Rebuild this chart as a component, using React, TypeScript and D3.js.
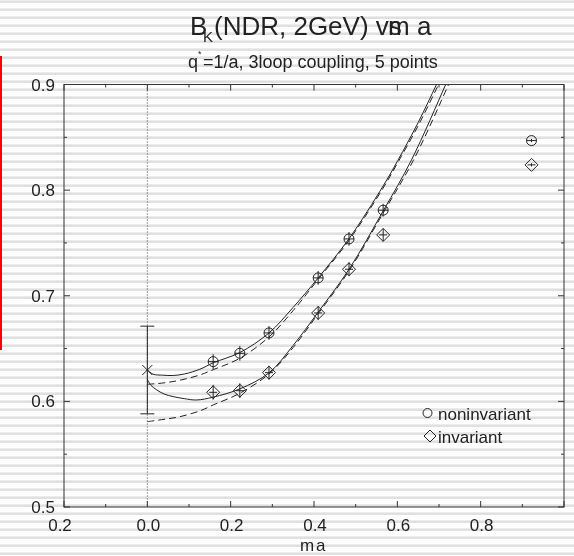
import React from "react";
import * as d3 from "d3";

const W = 574;
const H = 556;

// axis ticks
const xMajorTicks = [-0.2, 0, 0.2, 0.4, 0.6, 0.8, 1.0];
const xMinorTicks = [-0.1, 0.1, 0.3, 0.5, 0.7, 0.9];
const xTickLabels = ["0.2", "0.0", "0.2", "0.4", "0.6", "0.8"];
const yMajorTicks = [0.5, 0.6, 0.7, 0.8, 0.9];
const yMinorTicks = [0.55, 0.65, 0.75, 0.85];
const yTickLabels = ["0.5", "0.6", "0.7", "0.8", "0.9"];

// data points
const massValues = [0.158, 0.222, 0.292, 0.41, 0.484, 0.566, 0.922];
const noninvariantValues = [0.6376, 0.6455, 0.6648, 0.7169, 0.7538, 0.781, 0.8469];
const noninvariantErrors = [0.007, 0.007, 0.0065, 0.0065, 0.0065, 0.006, 0.0015];
const invariantValues = [0.6086, 0.6101, 0.6272, 0.6837, 0.7251, 0.7576, 0.8239];
const invariantErrors = [0.007, 0.007, 0.0065, 0.0065, 0.0065, 0.006, 0.0015];

// chiral-limit extrapolation
const chiralMass = [0];
const chiralValue = [0.6297];
const chiralError = [0.0415];

// fit curves
const upperSolidX = [0, 0.014, 0.037, 0.062, 0.09, 0.126, 0.158, 0.222, 0.292, 0.35, 0.41, 0.484, 0.566, 0.601, 0.65, 0.694, 0.72];
const upperSolidY = [0.6297, 0.6257, 0.6248, 0.6245, 0.626, 0.6304, 0.6365, 0.6462, 0.6648, 0.689, 0.7169, 0.754, 0.804, 0.828, 0.864, 0.9, 0.922];
const upperDashedX = [0, 0.04, 0.078, 0.126, 0.158, 0.222, 0.292, 0.35, 0.41, 0.484, 0.566, 0.601, 0.65, 0.699, 0.72];
const upperDashedY = [0.6162, 0.6175, 0.62, 0.625, 0.63, 0.6408, 0.661, 0.686, 0.7155, 0.7525, 0.802, 0.826, 0.861, 0.9, 0.917];
const lowerSolidX = [0, 0.008, 0.022, 0.04, 0.062, 0.09, 0.118, 0.158, 0.222, 0.292, 0.35, 0.409, 0.484, 0.567, 0.634, 0.716, 0.74];
const lowerSolidY = [0.621, 0.6155, 0.611, 0.607, 0.6045, 0.6025, 0.6013, 0.604, 0.6118, 0.627, 0.653, 0.684, 0.725, 0.781, 0.8286, 0.9, 0.922];
const lowerDashedX = [0, 0.04, 0.078, 0.126, 0.158, 0.222, 0.294, 0.35, 0.409, 0.484, 0.567, 0.639, 0.723, 0.745];
const lowerDashedY = [0.5808, 0.583, 0.5855, 0.591, 0.5966, 0.6077, 0.6266, 0.651, 0.6825, 0.7235, 0.779, 0.8286, 0.9, 0.92];

const legendLabels = ["noninvariant", "invariant"];

const FONT = "'Liberation Sans', Arial, Helvetica, sans-serif";
const INK = "#222";

export default function App() {
  const x = d3.scaleLinear().domain([-0.2, 1.0]).range([64, 564]);
  const y = d3.scaleLinear().domain([0.5, 0.9]).range([507, 84.5]);
  const [x0, x1] = x.range();
  const [y0, y1] = y.range();

  const line = d3
    .line<[number, number]>()
    .x((d) => x(d[0]))
    .y((d) => y(d[1]))
    .curve(d3.curveCatmullRom.alpha(0.5));

  const zip = (a: number[], b: number[]) => a.map((v, i) => [v, b[i]] as [number, number]);

  const curves = [
    { pts: zip(upperSolidX, upperSolidY), dash: undefined },
    { pts: zip(upperDashedX, upperDashedY), dash: "7,4" },
    { pts: zip(lowerSolidX, lowerSolidY), dash: undefined },
    { pts: zip(lowerDashedX, lowerDashedY), dash: "7,4" },
  ];

  const circleR = 5;
  const diamondH = 6.5;

  return (
    <div style={{ position: "fixed", left: 0, top: 0, width: W, height: H }}>
      <svg width={W} height={H} style={{ display: "block" }} fontFamily={FONT}>
        <defs>
          <pattern id="stripes" patternUnits="userSpaceOnUse" width={8} height={8}>
            <rect x={0} y={0} width={8} height={8} fill="#ffffff" />
            <rect x={0} y={0} width={8} height={1} fill="#ececec" />
            <rect x={0} y={1} width={8} height={2} fill="#e0e0e0" />
          </pattern>
          <clipPath id="plotClip">
            <rect x={x0} y={y1} width={x1 - x0} height={y0 - y1} />
          </clipPath>
        </defs>
        <rect x={0} y={0} width={W} height={H} fill="url(#stripes)" />
        <rect x={0} y={56} width={2} height={294} fill="#ff0000" />

        {/* title */}
        <text x={190} y={35} fontSize={26} fill={INK}>B</text>
        <text x={203} y={42} fontSize={15} fill={INK}>K</text>
        <text x={214} y={35} fontSize={26} fill={INK}>(NDR, 2GeV) vs</text>
        <text x={388} y={35} fontSize={26} fill={INK}>m</text>
        <text x={417} y={35} fontSize={26} fill={INK}>a</text>

        {/* subtitle */}
        <text x={188} y={68} fontSize={18} fill={INK}>q  =1/a, 3loop coupling, 5 points</text>
        <text x={198} y={57} fontSize={9} fill={INK}>*</text>

        {/* dotted zero line */}
        <line x1={x(0)} x2={x(0)} y1={y1} y2={y0} stroke="#444" strokeWidth={1} strokeDasharray="1,2" />

        {/* frame */}
        <rect x={x0} y={y1} width={x1 - x0} height={y0 - y1} fill="none" stroke="#333" strokeWidth={1} />

        {/* ticks */}
        {xMajorTicks.map((t) => (
          <g key={"xM" + t}>
            <line x1={x(t)} x2={x(t)} y1={y0} y2={y0 - 6} stroke="#333" />
            <line x1={x(t)} x2={x(t)} y1={y1} y2={y1 + 6} stroke="#333" />
          </g>
        ))}
        {xMinorTicks.map((t) => (
          <g key={"xm" + t}>
            <line x1={x(t)} x2={x(t)} y1={y0} y2={y0 - 3} stroke="#333" />
            <line x1={x(t)} x2={x(t)} y1={y1} y2={y1 + 3} stroke="#333" />
          </g>
        ))}
        {yMajorTicks.map((t) => (
          <g key={"yM" + t}>
            <line x1={x0} x2={x0 + 6} y1={y(t)} y2={y(t)} stroke="#333" />
            <line x1={x1} x2={x1 - 6} y1={y(t)} y2={y(t)} stroke="#333" />
          </g>
        ))}
        {yMinorTicks.map((t) => (
          <g key={"ym" + t}>
            <line x1={x0} x2={x0 + 3} y1={y(t)} y2={y(t)} stroke="#333" />
            <line x1={x1} x2={x1 - 3} y1={y(t)} y2={y(t)} stroke="#333" />
          </g>
        ))}

        {/* tick labels */}
        {xTickLabels.map((lab, i) => (
          <text key={"xl" + i} x={x(xMajorTicks[i]) + (i === 0 ? -4 : 1)} y={531} fontSize={17} textAnchor="middle" fill={INK}>
            {lab}
          </text>
        ))}
        {yTickLabels.map((lab, i) => (
          <text key={"yl" + i} x={55} y={y(yMajorTicks[i])} dy="0.36em" fontSize={17} textAnchor="end" fill={INK}>
            {lab}
          </text>
        ))}

        {/* x axis title */}
        <text x={300} y={551} fontSize={17} fill={INK}>m</text>
        <text x={316} y={551} fontSize={17} fill={INK}>a</text>

        {/* curves */}
        <g clipPath="url(#plotClip)">
          {curves.map((c, i) => (
            <path key={"c" + i} d={line(c.pts) || ""} fill="none" stroke="#222" strokeWidth={1} strokeDasharray={c.dash} />
          ))}
        </g>

        {/* chiral limit point */}
        {chiralMass.map((m, i) => {
          const cx = x(m);
          const cy = y(chiralValue[i]);
          const yt = y(chiralValue[i] + chiralError[i]);
          const yb = y(chiralValue[i] - chiralError[i]);
          return (
            <g key={"ch" + i} stroke="#222" strokeWidth={1}>
              <line x1={cx} x2={cx} y1={yt} y2={yb} />
              <line x1={cx - 7} x2={cx + 7} y1={yt} y2={yt} />
              <line x1={cx - 7} x2={cx + 7} y1={yb} y2={yb} />
              <line x1={cx - 5} x2={cx + 5} y1={cy - 5} y2={cy + 5} />
              <line x1={cx - 5} x2={cx + 5} y1={cy + 5} y2={cy - 5} />
            </g>
          );
        })}

        {/* noninvariant points */}
        {massValues.map((m, i) => {
          const cx = x(m);
          const cy = y(noninvariantValues[i]);
          return (
            <g key={"n" + i} stroke="#222" strokeWidth={1} fill="none">
              <circle cx={cx} cy={cy} r={circleR} />
              <line x1={cx - circleR} x2={cx + circleR} y1={cy} y2={cy} />
              <line x1={cx} x2={cx} y1={y(noninvariantValues[i] + noninvariantErrors[i])} y2={y(noninvariantValues[i] - noninvariantErrors[i])} />
            </g>
          );
        })}

        {/* invariant points */}
        {massValues.map((m, i) => {
          const cx = x(m);
          const cy = y(invariantValues[i]);
          const h = diamondH;
          return (
            <g key={"v" + i} stroke="#222" strokeWidth={1} fill="none">
              <path d={`M${cx},${cy - h}L${cx + h},${cy}L${cx},${cy + h}L${cx - h},${cy}Z`} />
              <line x1={cx - 4} x2={cx + 4} y1={cy} y2={cy} />
              <line x1={cx} x2={cx} y1={y(invariantValues[i] + invariantErrors[i])} y2={y(invariantValues[i] - invariantErrors[i])} />
            </g>
          );
        })}

        {/* legend */}
        <circle cx={427.5} cy={413} r={4.5} fill="none" stroke="#222" />
        <text x={438} y={420} fontSize={17} fill={INK}>{legendLabels[0]}</text>
        <path d={`M430,430L436,436L430,442L424,436Z`} fill="none" stroke="#222" />
        <text x={438} y={443} fontSize={17} fill={INK}>{legendLabels[1]}</text>
      </svg>
    </div>
  );
}
